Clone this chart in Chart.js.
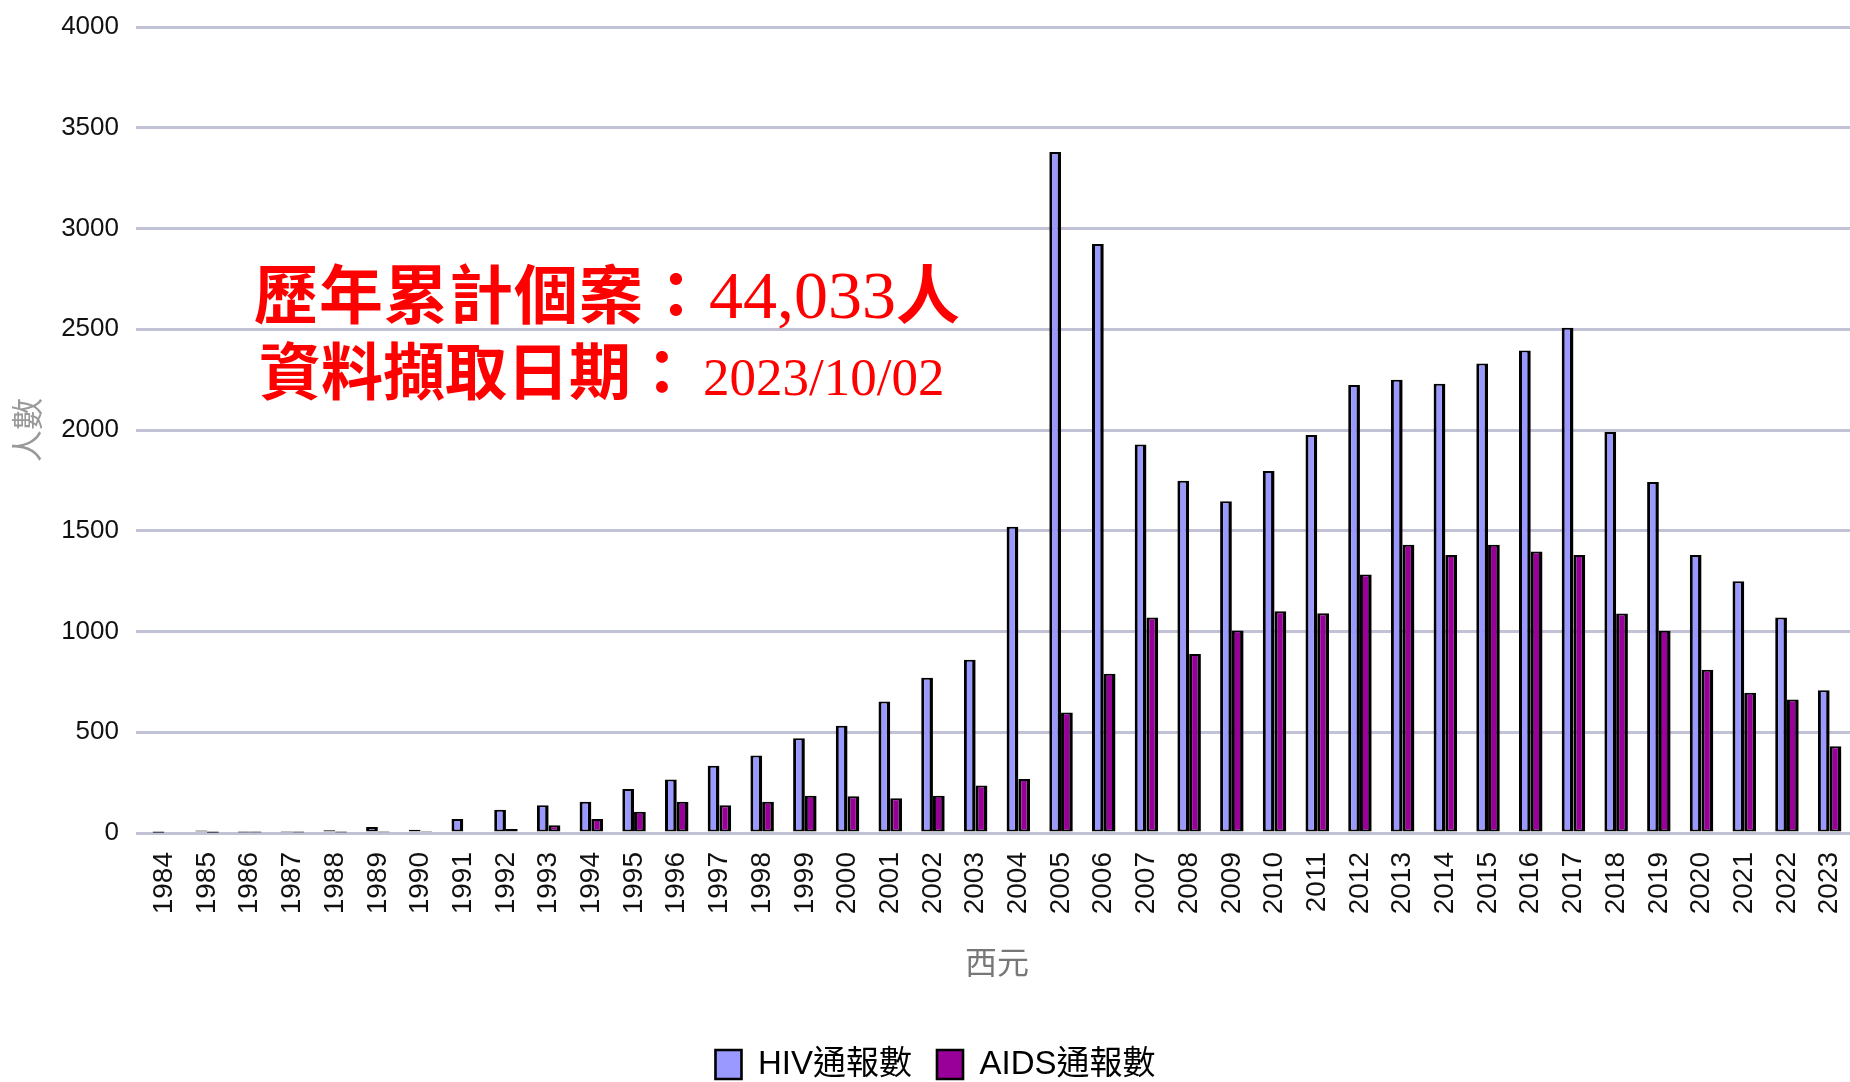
<!DOCTYPE html>
<html>
<head>
<meta charset="utf-8">
<title>HIV/AIDS 通報數</title>
<script src="https://cdn.jsdelivr.net/npm/chart.js"></script>
<style>
  html, body { margin: 0; padding: 0; background: #fff; overflow: hidden; }
  #wrap { position: relative; width: 1851px; height: 1091px; }
  .note {
    position: absolute;
    color: #ff0000;
    font-family: "Noto Sans CJK TC", sans-serif;
    font-weight: 700;
    white-space: nowrap;
  }
  .note .num { font-family: "Liberation Serif", serif; font-weight: 400; }
  #note1 { left: 254px; top: 258px; font-size: 64px; line-height: 64px; letter-spacing: 1px; }
  #note1 .num { font-size: 68px; letter-spacing: 0; }
  #note2 { left: 259px; top: 337px; font-size: 62px; line-height: 62px; }
  #note2 .num { font-size: 53px; margin-left: 10px; }
</style>
</head>
<body>
<div id="wrap">
  <canvas id="chart"></canvas>
  <div class="note" id="note1">歷年累計個案：<span class="num">44,033</span>人</div>
  <div class="note" id="note2">資料擷取日期：<span class="num">2023/10/02</span></div>
</div>
<script>
// years on the x axis
const years = ['1984', '1985', '1986', '1987', '1988', '1989', '1990', '1991', '1992', '1993',
  '1994', '1995', '1996', '1997', '1998', '1999', '2000', '2001', '2002', '2003',
  '2004', '2005', '2006', '2007', '2008', '2009', '2010', '2011', '2012', '2013',
  '2014', '2015', '2016', '2017', '2018', '2019', '2020', '2021', '2022', '2023'];

const hivCounts = [1, 12, 3, 4, 14, 30, 16, 70, 116, 138,
  155, 218, 266, 334, 384, 470, 532, 652, 770, 860,
  1520, 3380, 2923, 1928, 1748, 1647, 1797, 1975, 2223, 2250,
  2230, 2330, 2395, 2508, 1990, 1742, 1380, 1250, 1070, 708];
const aidsCounts = [0, 1, 2, 2, 3, 4, 5, 7, 20, 38,
  70, 105, 155, 138, 155, 185, 182, 172, 185, 236,
  268, 598, 790, 1070, 888, 1005, 1100, 1090, 1283, 1430,
  1380, 1431, 1397, 1380, 1089, 1004, 810, 696, 662, 430];

const seriesNames = ['HIV通報數', 'AIDS通報數'];
const xTitle = '西元';
const yTitle = '人數';

const tickFont = '"Liberation Sans", Arial, sans-serif';
const cjkFont = '"Liberation Sans", "Noto Sans CJK TC", sans-serif';

const barBorder = { top: 2, left: 3, right: 3.5, bottom: 2 };

// nudge the legend a little to the right, like the original
const legendShift = {
  id: 'legendShift',
  afterLayout(chart) {
    chart.legend.left += 20;
  }
};

const ctx = document.getElementById('chart').getContext('2d');
const chart = new Chart(ctx, {
  type: 'bar',
  data: {
    labels: years,
    datasets: [
      {
        label: seriesNames[0],
        data: hivCounts,
        backgroundColor: '#9999ff',
        borderColor: '#000',
        borderWidth: barBorder,
        borderSkipped: false
      },
      {
        label: seriesNames[1],
        data: aidsCounts,
        backgroundColor: '#990099',
        borderColor: '#000',
        borderWidth: barBorder,
        borderSkipped: false
      }
    ]
  },
  plugins: [legendShift],
  options: {
    responsive: true,
    maintainAspectRatio: false,
    animation: false,
    categoryPercentage: 0.55,
    barPercentage: 1.0,
    layout: { padding: { top: 27, left: 0, right: 0, bottom: 0 } },
    plugins: {
      tooltip: { enabled: false },
      legend: {
        position: 'bottom',
        labels: {
          boxWidth: 26,
          boxHeight: 29,
          padding: 25,
          color: '#000',
          font: { size: 33, family: cjkFont }
        }
      }
    },
    scales: {
      x: {
        grid: { display: false, drawTicks: false },
        border: { display: false },
        ticks: {
          autoSkip: false,
          minRotation: 90,
          maxRotation: 90,
          padding: 19,
          color: '#111',
          font: { size: 28, family: tickFont }
        },
        title: {
          display: true,
          text: xTitle,
          color: '#777',
          font: { size: 32, family: '"Noto Sans CJK TC", sans-serif' },
          padding: { top: 0, bottom: 42 }
        },
        afterFit: (scale) => {
          scale.height = 190;
          scale.paddingLeft = 0;
          scale.paddingRight = 0;
        }
      },
      y: {
        min: 0,
        max: 4000,
        ticks: {
          stepSize: 500,
          padding: 17,
          color: '#111',
          font: { size: 26, family: tickFont },
          callback: (value) => String(value)
        },
        grid: { color: '#c2c2d6', lineWidth: 3, tickLength: 7, drawTicks: true },
        border: { display: false },
        title: {
          display: true,
          text: yTitle,
          color: '#999',
          font: { size: 32, family: '"Noto Sans CJK TC", sans-serif' },
          padding: { top: 8, bottom: 0 }
        },
        afterFit: (scale) => {
          scale.width = 143;
          scale.paddingTop = 0;
          scale.paddingBottom = 0;
        }
      }
    }
  }
});
</script>
</body>
</html>
